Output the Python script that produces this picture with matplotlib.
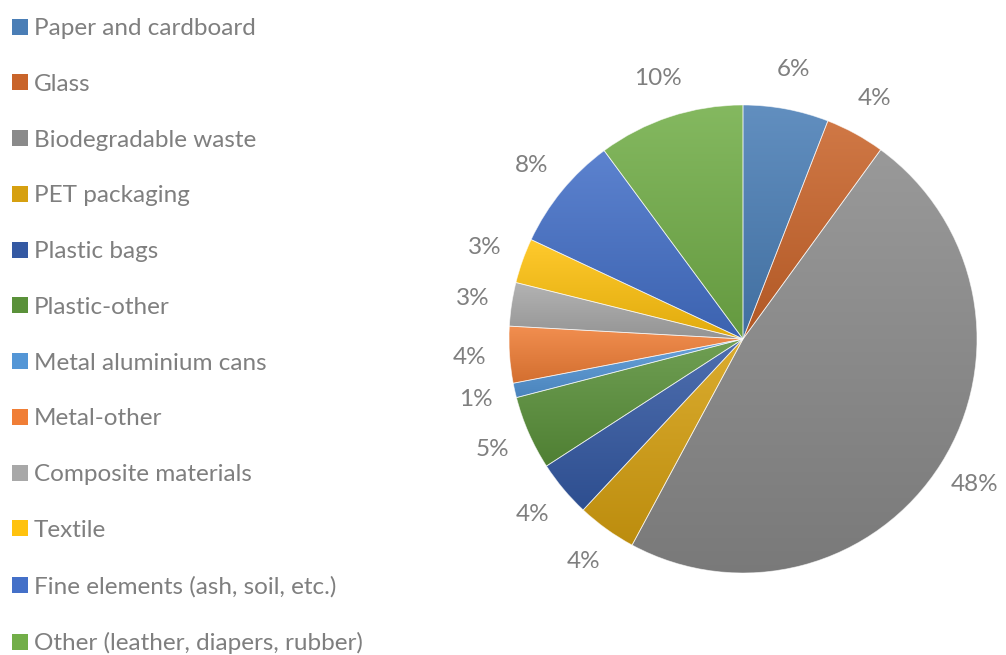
import numpy as np
import matplotlib
matplotlib.use('Agg')
import matplotlib.pyplot as plt
from matplotlib.patches import Patch
from matplotlib.colors import to_rgb

# waste composition (share of total, %)
categories = ['Paper and cardboard', 'Glass', 'Biodegradable waste', 'PET packaging',
              'Plastic bags', 'Plastic-other', 'Metal aluminium cans', 'Metal-other',
              'Composite materials', 'Textile', 'Fine elements (ash, soil, etc.)',
              'Other (leather, diapers, rubber)']
shares = [5.9, 4.1, 47.8, 4.1, 3.9, 5.1, 1.0, 3.9, 3.0, 3.1, 7.9, 10.1]
pct_labels = ['6%', '4%', '48%', '4%', '4%', '5%', '1%', '4%', '3%', '3%', '8%', '10%']
colors = ['#4A7EB6', '#C9642A', '#8A8A8A', '#D6A010', '#3459A3', '#5A913A',
          '#5496D6', '#F07E36', '#A8A8A8', '#FFC20E', '#4470C8', '#72AE48']

txt_color = '#7F7F7F'
font = 'Lato'

fig = plt.figure(figsize=(10.06, 6.55), dpi=100)
R = 234.0  # pie radius in px
ax = fig.add_axes([(743 - 262) / 1006, 0.0, 524 / 1006, 632 / 655])

wedges, texts = ax.pie(shares, colors=colors, startangle=90, counterclock=False,
                       labels=pct_labels, labeldistance=1.17,
                       textprops=dict(color=txt_color, fontsize=17.5, family=font,
                                      ha='center', va='center'))
for t in texts:
    t.set_horizontalalignment('center')

# vertical gradient fill for each slice (lighter at top, darker at bottom)
for w, c in zip(wedges, colors):
    base = np.array(to_rgb(c))
    top = base + (1 - base) * 0.13
    bot = base * 0.88
    tt = np.linspace(0, 1, 256)[:, None, None]
    grad = top * (1 - tt) + bot * tt
    ext = w.get_path().get_extents()
    im = ax.imshow(grad, extent=[ext.x0, ext.x1, ext.y0, ext.y1], origin='upper',
                   aspect='auto', zorder=1, interpolation='bilinear')
    im.set_clip_path(w)
    w.set_facecolor('none')
    w.set_edgecolor((1, 1, 1, 0.6))
    w.set_linewidth(0.6)
    w.set_zorder(2)

ax.set_aspect('auto')
ax.set_xlim(-262 / R, 262 / R)
ax.set_ylim(-316 / R, 316 / R)
ax.axis('off')

handles = [Patch(facecolor=c, edgecolor='none') for c in colors]
leg = fig.legend(handles, categories, loc='upper left', bbox_to_anchor=(0.0, 1.0 - 6 / 655),
                 frameon=False, handlelength=0.64, handleheight=0.64, handletextpad=0.26,
                 labelspacing=1.43, borderpad=0.5, borderaxespad=0,
                 prop=dict(family=font, size=17.5))
for t in leg.get_texts():
    t.set_color(txt_color)

fig.savefig('out.png', dpi=100)
